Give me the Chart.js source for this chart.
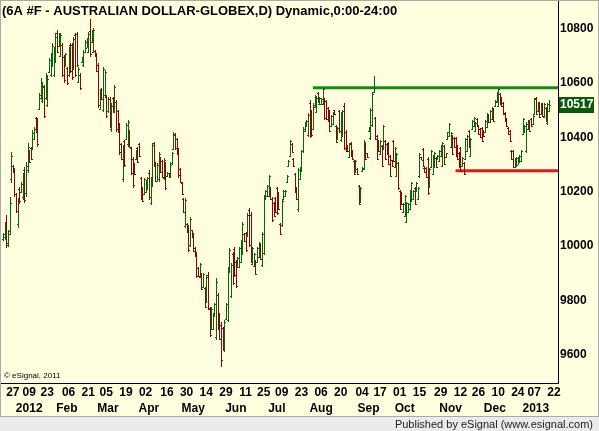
<!DOCTYPE html>
<html>
<head>
<meta charset="utf-8">
<script src="https://cdn.jsdelivr.net/npm/chart.js@4.4.0/dist/chart.umd.min.js"></script>
<style>
  html, body { margin: 0; padding: 0; background: #e9e9e9; }
  canvas { display: block; }
</style>
</head>
<body>
<canvas id="chart" width="599" height="431"></canvas>
<script>
// 6A #F daily bars, Dec 2011 - Jan 2013 (price x 10000)
var highs = [
  10050,10089,10115,10060,10181,10346,10298,10287,10196,10177, 10218,10236,10269,10291,10310,10379,10354,10365,10427,10438,
  10475,10471,10563,10618,10600,10593,10637,10629,10692,10710, 10747,10732,10784,10795,10784,10784,10747,10703,10710,10659,
  10732,10747,10747,10769,10784,10787,10659,10637,10695,10721, 10758,10765,10787,10835,10795,10802,10721,10710,10673,10574,
  10582,10659,10648,10556,10548,10548,10526,10548,10593,10537, 10501,10453,10379,10372,10390,10453,10464,10427,10365,10328,
  10306,10354,10365,10379,10254,10218,10251,10243,10254,
  10280,10254,10379,10383,10310,10306,10346,10328,10317,10324, 10310,10273,10269,10310,10346,10420,10416,10398,10361,10287,
  10236,10177,10177,10085,10078,10107,10060,10049,9997,9979, 9923,9938,9901,9901,9850,9894,9905,9776,9776,9754,
  9791,9883,9828,9754,9721,9703,9729,9791,9923,9993, 9938,9979,9997,9949,9960,9997,10023,10089,10049,10052,
  10122,10140,10126,9997,9975,9949,9997,10015,10012,10052, 10188,10207,10225,10262,10218,10181,10162,10181,10218,10199,
  10085,10170,10207,10207,10262,10317,10390,10379,10324,10269, 10218,10287,
  10291,10354,10438,10457,10464,10490,10537,10501,10526,10556, 10548,10567,10548,10545,10582,10545,10537,10512,10501,10482,
  10493,10501,10446,10438,10501,10493,10501,10526,10427,10372, 10379,10383,10354,10317,10317,10287,10225,10218,10291,10390,
  10379,10343,10438,10508,10567,10626,10475,10409,10390,10390, 10372,10446,10390,10379,10383,10335,10317,10390,10365,10343,
  10310,10207,10199,10159,10188,10162,10159,10207,10236,10207, 10218,10236,10218,10343,10328,10361,10291,10291,10328,10287,
  10354,10335,10346,10328,10335,10354,10372,10383,10372,10343, 10420,10453,10420,
  10409,10401,10401,10372,10346,10365,10328,10310,10398,10409, 10427,10398,10464,10475,10457,10471,10446,10434,10438,10427,
  10464,10490,10482,10501,10512,10508,10537,10567,10582,10563, 10548,10530,10493,10471,10438,10427,10354,10354,10324,10328,
  10328,10335,10354,10471,10446,10457,10464,10464,10471,10482, 10545,10548,10530,10530,10526,10526,10526,10512,10526,10537
];
var lows = [
  10020,10023,9993,9997,10041,10232,10269,10181,10122,10067, 10159,10196,10170,10159,10181,10269,10306,10317,10354,10390,
  10416,10365,10501,10537,10526,10471,10537,10512,10637,10622, 10659,10622,10673,10710,10732,10695,10622,10600,10659,10593,
  10622,10637,10611,10648,10622,10659,10600,10574,10673,10659, 10710,10728,10710,10695,10747,10710,10695,10640,10508,10501,
  10537,10493,10548,10471,10490,10434,10420,10490,10490,10420, 10416,10335,10317,10236,10291,10390,10365,10361,10262,10214,
  10262,10317,10306,10328,10170,10162,10188,10196,10207,
  10170,10151,10218,10291,10236,10236,10236,10269,10251,10243, 10207,10254,10251,10251,10298,10354,10354,10335,10251,10232,
  10188,10122,10067,10049,9979,9997,10030,9979,9960,9883, 9887,9883,9839,9846,9773,9791,9765,9666,9692,9692,
  9740,9655,9692,9655,9556,9618,9611,9729,9721,9901, 9810,9857,9887,9846,9920,9920,9938,9968,10015,9979,
  10034,9997,9938,9931,9923,9894,9938,9957,9949,9923, 9968,10170,10181,10181,10170,10089,10107,10122,10115,10133,
  10041,10071,10170,10181,10232,10291,10328,10343,10291,10196, 10170,10126,
  10243,10273,10343,10420,10438,10401,10398,10401,10427,10508, 10490,10526,10519,10519,10519,10464,10464,10457,10420,10438,
  10446,10482,10379,10390,10416,10383,10401,10354,10346,10346, 10324,10328,10317,10262,10269,10262,10151,10159,10273,10280,
  10317,10324,10420,10390,10438,10563,10390,10317,10346,10335, 10291,10354,10317,10335,10298,10254,10291,10310,10287,10254,
  10207,10133,10151,10122,10107,10085,10122,10133,10162,10170, 10151,10199,10170,10251,10317,10291,10269,10251,10188,10214,
  10287,10262,10287,10287,10317,10310,10328,10291,10298,10324, 10390,10401,10361,
  10335,10361,10328,10317,10287,10273,10291,10262,10317,10346, 10361,10328,10427,10438,10420,10438,10409,10398,10383,10401,
  10416,10434,10453,10453,10464,10457,10512,10526,10512,10519, 10512,10482,10457,10438,10409,10383,10317,10287,10287,10291,
  10298,10306,10310,10409,10416,10343,10427,10420,10438,10446, 10482,10482,10493,10471,10482,10475,10471,10457,10446,10493
];
var opens = [
  10028,10035,10090,10005,10055,10245,10295,10280,10190,10080, 10210,10200,10180,10280,10195,10280,10350,10360,10360,10395,
  10470,10460,10505,10545,10535,10585,10545,10520,10640,10630, 10665,10630,10680,10785,10735,10700,10740,10695,10660,10655,
  10630,10740,10740,10655,10775,10780,10605,10630,10675,10665, 10715,10730,10715,10790,10750,10715,10718,10705,10665,10505,
  10578,10500,10555,10550,10495,10540,10430,10545,10495,10530, 10495,10445,10375,10245,10385,10395,10375,10420,10360,10320,
  10300,10320,10360,10375,10250,10212,10192,10200,10210,
  10270,10160,10230,10378,10305,10240,10245,10322,10312,10250, 10300,10256,10267,10255,10300,10358,10410,10392,10355,10282,
  10232,10172,10075,10082,10072,10005,10058,10044,9994,9972, 9920,9886,9896,9850,9845,9798,9895,9770,9698,9696,
  9744,9665,9820,9748,9712,9698,9620,9732,9730,9905, 9815,9972,9990,9943,9923,9925,9942,9975,10046,10048,
  10040,10132,10115,9935,9926,9945,9942,9960,10008,9930, 9975,10174,10185,10186,10214,10175,10158,10176,10212,10194,
  10082,10076,10173,10184,10235,10293,10332,10376,10320,10265, 10214,10135,
  10247,10278,10350,10423,10440,10408,10525,10495,10432,10512, 10494,10563,10522,10521,10524,10540,10532,10508,10495,10441,
  10449,10499,10441,10393,10495,10390,10407,10515,10421,10370, 10328,10378,10351,10313,10272,10285,10220,10163,10275,10285,
  10375,10341,10422,10396,10445,10567,10470,10404,10386,10338, 10367,10360,10386,10376,10378,10331,10315,10385,10291,10259,
  10304,10203,10196,10124,10111,10089,10125,10137,10166,10173, 10214,10202,10174,10256,10327,10357,10289,10288,10322,10218,
  10290,10266,10290,10325,10319,10313,10331,10296,10368,10326, 10392,10404,10364,
  10404,10398,10396,10368,10342,10360,10293,10306,10321,10350, 10422,10332,10430,10441,10423,10468,10443,10431,10434,10425,
  10419,10437,10480,10456,10467,10505,10514,10529,10516,10560, 10545,10527,10490,10468,10436,10424,10351,10349,10290,10294,
  10300,10308,10313,10413,10419,10350,10430,10461,10468,10449, 10486,10544,10496,10526,10485,10522,10475,10508,10451,10496
];
var closes = [
  10045,10075,10010,10045,10160,10330,10272,10190,10130,10160, 10165,10230,10255,10170,10295,10365,10310,10320,10415,10430,
  10420,10375,10555,10605,10590,10480,10625,10615,10685,10700, 10735,10720,10770,10715,10775,10775,10630,10610,10705,10600,
  10725,10645,10620,10760,10630,10665,10650,10580,10690,10715, 10750,10760,10780,10705,10790,10795,10698,10645,10520,10565,
  10540,10650,10640,10480,10540,10445,10515,10495,10585,10430, 10425,10345,10320,10360,10300,10445,10455,10365,10270,10225,
  10265,10350,10310,10330,10175,10165,10245,10238,10250,
  10180,10245,10370,10300,10240,10300,10340,10272,10255,10318, 10215,10270,10253,10305,10342,10412,10360,10340,10260,10236,
  10192,10126,10168,10052,9985,10100,10032,9983,9963,9890, 9890,9933,9843,9897,9778,9887,9772,9673,9770,9750,
  9787,9870,9698,9660,9580,9625,9720,9786,9915,9985, 9930,9865,9893,9852,9957,9992,10018,10080,10018,9985,
  10115,10005,9945,9993,9970,9898,9992,10010,9953,10045, 10180,10203,10220,10256,10174,10095,10110,10126,10120,10137,
  10044,10165,10203,10204,10259,10314,10385,10346,10294,10200, 10173,10280,
  10287,10348,10430,10453,10461,10483,10405,10408,10520,10552, 10543,10530,10545,10542,10576,10470,10468,10460,10425,10479,
  10489,10484,10384,10434,10422,10486,10495,10362,10350,10348, 10375,10332,10320,10266,10313,10264,10156,10214,10289,10384,
  10320,10326,10436,10502,10560,10580,10395,10322,10349,10386, 10296,10440,10320,10338,10303,10258,10293,10314,10360,10338,
  10212,10136,10154,10156,10184,10158,10156,10203,10232,10204, 10155,10233,10215,10338,10318,10295,10271,10254,10195,10283,
  10350,10331,10342,10290,10333,10351,10369,10378,10302,10341, 10418,10450,10416,
  10340,10364,10332,10320,10291,10278,10325,10266,10394,10405, 10365,10394,10461,10472,10454,10441,10412,10401,10387,10403,
  10461,10486,10455,10498,10509,10460,10535,10563,10577,10522, 10515,10485,10460,10441,10411,10386,10320,10291,10321,10325,
  10326,10333,10351,10467,10443,10450,10461,10423,10441,10479, 10541,10486,10527,10475,10523,10478,10522,10460,10521,10517
];

// axis labels (bar index where each label sits)
var dateIdx = [6,16,27,40,52,63,75,87,100,112,124,136,148,159,170,182,194,206,219,230,242,254,267,279,290,302,314,324,336];
var dateTxt = ['27','09','23','06','21','05','19','02','16','30','14','29','11','25','09','23','06','20','04','17','01','15','29','12','26','10','24','07','22'];
var monthIdx = [16,39,64,89,116,142,167,194,223,245,273,300,325];
var monthTxt = ['2012','Feb','Mar','Apr','May','Jun','Jul','Aug','Sep','Oct','Nov','Dec','2013'];
var yTicks = [9600,9800,10000,10200,10400,10600,10800];

// trend lines drawn on the chart
var resistStart = 189, resistLevel = 10582;
var supportStart = 276, supportLevel = 10277;

var X_MIN = -1.2, X_MAX = 338.5;
var UP = '#086408', DOWN = '#8a0606';
var FONT = 'Liberation Sans, Arial, sans-serif';

var ranges = highs.map(function (h, i) { return { x: i, y: [lows[i], h] }; });

function noPad(s) {
  s.paddingLeft = 0; s.paddingRight = 0; s.paddingTop = 0; s.paddingBottom = 0;
}

// draws the high-low bars crisp, with open / close ticks
var ohlcPlugin = {
  id: 'ohlc',
  beforeDatasetDraw: function (chart, args) {
    if (args.meta.type !== 'bar') return;
    var ctx = chart.ctx;
    var ys = chart.scales.y;
    ctx.save();
    args.meta.data.forEach(function (el, i) {
      var x = Math.round(el.x);
      var top = Math.round(ys.getPixelForValue(highs[i]));
      var bot = Math.round(ys.getPixelForValue(lows[i]));
      var yo = Math.round(ys.getPixelForValue(opens[i]));
      var yc = Math.round(ys.getPixelForValue(closes[i]));
      ctx.fillStyle = closes[i] >= opens[i] ? UP : DOWN;
      ctx.fillRect(x, top, 1, Math.max(bot - top, 1));
      ctx.fillRect(x - 1, yo, 1, 1);
      ctx.fillRect(x + 1, yc, 1, 1);
    });
    ctx.restore();
    return false;
  }
};

var framePlugin = {
  id: 'frame',
  beforeDraw: function (chart) {
    var ctx = chart.ctx;
    ctx.save();
    ctx.fillStyle = '#a9a9a9';
    ctx.fillRect(0, 0, 599, 431);
    ctx.fillStyle = '#ffffe0';
    ctx.fillRect(1, 1, 597, 415);
    ctx.fillStyle = '#ebebeb';
    ctx.fillRect(0, 417, 599, 14);
    ctx.restore();
  },
  afterDraw: function (chart) {
    var ctx = chart.ctx;
    var ys = chart.scales.y;
    ctx.save();
    ctx.fillStyle = '#000';
    ctx.font = 'bold 13px ' + FONT;
    ctx.textBaseline = 'alphabetic';
    ctx.fillText('(6A #F - AUSTRALIAN DOLLAR-GLOBEX,D) Dynamic,0:00-24:00', 2, 15);
    ctx.font = '8px ' + FONT;
    ctx.fillText('\u00a9 eSignal, 2011', 4, 378);
    ctx.font = '11px ' + FONT;
    ctx.fillStyle = '#222';
    ctx.textAlign = 'right';
    ctx.fillText('Published by eSignal (www.esignal.com)', 593, 428);
    // last price marker
    var last = closes[closes.length - 1];
    var y = Math.round(ys.getPixelForValue(last));
    ctx.fillStyle = '#0b5a0b';
    ctx.fillRect(559, y - 8, 35, 16);
    ctx.fillStyle = '#fff';
    ctx.textAlign = 'left';
    ctx.textBaseline = 'middle';
    ctx.font = 'bold 12px ' + FONT;
    ctx.fillText(String(last), 560, y);
    ctx.restore();
  }
};

var axisFont = { family: FONT, size: 12, weight: 'bold' };

new Chart(document.getElementById('chart'), {
  type: 'bar',
  data: {
    datasets: [
      { data: ranges, backgroundColor: UP, barThickness: 1, order: 0 },
      { type: 'line', data: [{ x: resistStart, y: resistLevel }, { x: X_MAX, y: resistLevel }],
        borderColor: '#118d11', borderWidth: 3, pointRadius: 0, order: 1 },
      { type: 'line', data: [{ x: supportStart, y: supportLevel }, { x: X_MAX, y: supportLevel }],
        borderColor: '#f01414', borderWidth: 3, pointRadius: 0, order: 1 }
    ]
  },
  options: {
    responsive: false,
    animation: false,
    devicePixelRatio: 1,
    layout: { padding: { left: 1, top: 1, right: 2, bottom: 14 } },
    plugins: { legend: { display: false }, tooltip: { enabled: false } },
    scales: {
      x: {
        type: 'linear', min: X_MIN, max: X_MAX, weight: 0, offset: false,
        grid: { display: false, drawTicks: false, offset: false },
        border: { display: true, color: '#000', width: 1 },
        ticks: {
          autoSkip: false, maxRotation: 0, padding: 2, color: '#000', font: axisFont,
          callback: function (v, i) { return dateTxt[i]; }
        },
        afterBuildTicks: function (s) { s.ticks = dateIdx.map(function (v) { return { value: v }; }); },
        afterFit: function (s) { s.height = 17; noPad(s); }
      },
      xm: {
        type: 'linear', position: 'bottom', min: X_MIN, max: X_MAX, weight: 1, offset: false,
        grid: { display: false, drawTicks: false, offset: false },
        border: { display: false },
        ticks: {
          autoSkip: false, maxRotation: 0, padding: 1, color: '#000', font: axisFont,
          callback: function (v, i) { return monthTxt[i]; }
        },
        afterBuildTicks: function (s) { s.ticks = monthIdx.map(function (v) { return { value: v }; }); },
        afterFit: function (s) { s.height = 17; noPad(s); }
      },
      y: {
        type: 'linear', position: 'right', min: 9497, max: 10901,
        grid: { display: false, drawTicks: false },
        border: { display: true, color: '#000', width: 1 },
        ticks: {
          padding: 2, color: '#000', crossAlign: 'near', font: axisFont,
          callback: function (v) { return String(v); }
        },
        afterBuildTicks: function (s) { s.ticks = yTicks.map(function (v) { return { value: v }; }); },
        afterFit: function (s) { s.width = 39; noPad(s); }
      }
    }
  },
  plugins: [framePlugin, ohlcPlugin]
});
</script>
</body>
</html>
